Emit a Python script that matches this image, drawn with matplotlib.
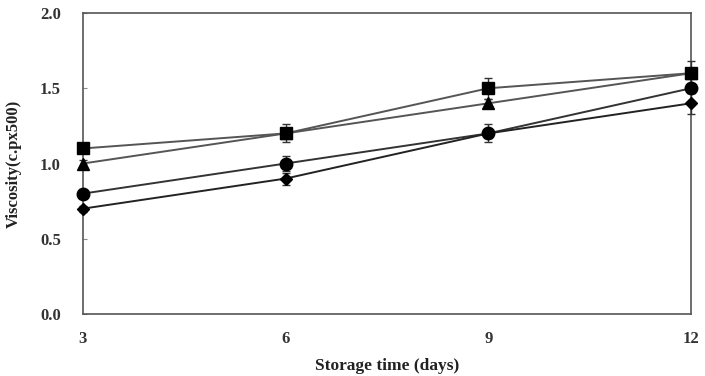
import matplotlib.pyplot as plt

days = [3, 6, 9, 12]

square = [1.1, 1.2, 1.5, 1.6]
square_err = [0.03, 0.06, 0.07, 0.08]
triangle = [1.0, 1.2, 1.4, 1.6]
triangle_err = [0.02, 0.03, 0.03, 0.03]
circle = [0.8, 1.0, 1.2, 1.5]
circle_err = [0.02, 0.05, 0.06, 0.03]
diamond = [0.7, 0.9, 1.2, 1.4]
diamond_err = [0.02, 0.04, 0.03, 0.07]

yticks = [0.0, 0.5, 1.0, 1.5, 2.0]

plt.rcParams['font.family'] = 'Liberation Serif'

fig = plt.figure(figsize=(7.05, 3.76), dpi=100)
ax = fig.add_axes([0.1177, 0.1649, 0.8624, 0.8005])

series = [
    (square, square_err, 's', 8.5, '#555555'),
    (triangle, triangle_err, '^', 8, '#555555'),
    (circle, circle_err, 'o', 9, '#333333'),
    (diamond, diamond_err, 'D', 6, '#222222'),
]
for vals, err, mk, ms, lc in series:
    ax.plot(days, vals, color=lc, lw=1.4, zorder=2, clip_on=False)
    ax.errorbar(days, vals, yerr=err, fmt=mk, ms=ms, color='black', ecolor='#333333',
                elinewidth=1.0, capsize=3, capthick=1.0, zorder=3, clip_on=False)

ax.set_xlim(3, 12)
ax.set_ylim(0, 2.0)
ax.set_xticks(days)
ax.set_yticks(yticks)
ax.set_yticklabels([f'{v:.1f}' for v in yticks])
ax.tick_params(direction='in', length=3, color='#888888', labelsize=12, labelcolor='#333333')
ax.tick_params(axis='y', pad=16)
ax.tick_params(axis='x', pad=12, length=0)
for lab in ax.get_xticklabels() + ax.get_yticklabels():
    lab.set_fontweight('bold')
for sp in ax.spines.values():
    sp.set_color('#555555')
    sp.set_linewidth(1.2)

ax.set_xlabel('Storage time (days)', fontsize=12.5, fontweight='bold', color='#222222', labelpad=8)
ax.set_ylabel('Viscosity(c.px500)', fontsize=12, fontweight='bold', color='#222222', labelpad=13)

fig.savefig('out.png', dpi=100)
